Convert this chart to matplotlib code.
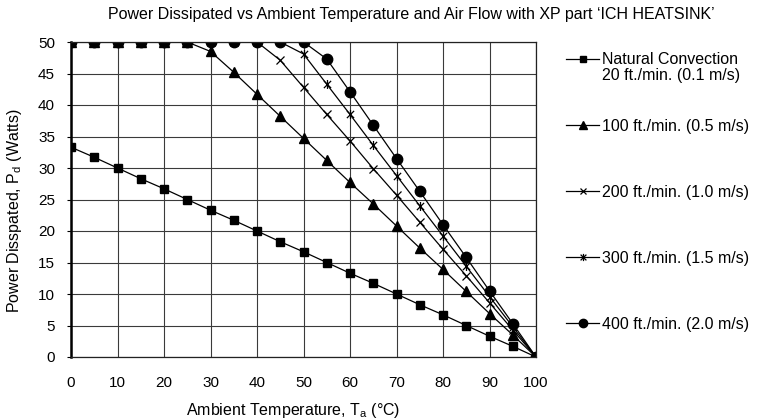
import matplotlib
matplotlib.use("Agg")
import matplotlib.pyplot as plt
from matplotlib.path import Path

plt.rcParams["font.family"] = ["Liberation Sans", "DejaVu Sans"]
plt.rcParams["mathtext.fontset"] = "custom"
plt.rcParams["mathtext.rm"] = "Liberation Sans"
plt.rcParams["mathtext.it"] = "Liberation Sans:italic"

# ambient temperature (deg C)
temps = [0, 5, 10, 15, 20, 25, 30, 35, 40, 45, 50,
         55, 60, 65, 70, 75, 80, 85, 90, 95, 100]

# power dissipated (W) per air flow
natural = [33.3, 31.7, 30.0, 28.3, 26.7, 25.0, 23.3, 21.7, 20.0, 18.3, 16.7,
           15.0, 13.3, 11.7, 10.0, 8.3, 6.7, 5.0, 3.3, 1.7, 0.0]
flow_100 = [50, 50, 50, 50, 50, 50, 48.5, 45.2, 41.7, 38.2, 34.7,
            31.2, 27.7, 24.3, 20.8, 17.3, 13.9, 10.4, 6.9, 3.5, 0.0]
flow_200 = [50, 50, 50, 50, 50, 50, 50, 50, 50, 47.1, 42.8,
            38.5, 34.3, 29.9, 25.7, 21.4, 17.1, 12.9, 8.6, 4.3, 0.0]
flow_300 = [50, 50, 50, 50, 50, 50, 50, 50, 50, 50, 48.1,
            43.3, 38.5, 33.6, 28.8, 24.0, 19.2, 14.4, 9.6, 4.8, 0.0]
flow_400 = [50, 50, 50, 50, 50, 50, 50, 50, 50, 50, 50,
            47.3, 42.1, 36.8, 31.5, 26.3, 21.0, 15.8, 10.5, 5.3, 0.0]

labels = [
    "Natural Convection",
    "100 ft./min. (0.5 m/s)",
    "200 ft./min. (1.0 m/s)",
    "300 ft./min. (1.5 m/s)",
    "400 ft./min. (2.0 m/s)",
]
natural_sub = "20 ft./min. (0.1 m/s)"

# x with a vertical bar, like the spreadsheet "star" marker
star = Path(
    [(-1, -1), (1, 1), (-1, 1), (1, -1), (0, -1.25), (0, 1.25)],
    [Path.MOVETO, Path.LINETO, Path.MOVETO, Path.LINETO, Path.MOVETO, Path.LINETO],
)

W, H = 758, 418
fig = plt.figure(figsize=(W / 100, H / 100), dpi=100)
ax = fig.add_axes([71 / W, 1 - 357 / H, 465 / W, 315 / H])

lw = 0.9
ax.plot(temps, natural, color="black", lw=lw, marker="s", ms=6, label=labels[0])
ax.plot(temps, flow_100, color="black", lw=lw, marker="^", ms=6.7, label=labels[1])
ax.plot(temps, flow_200, color="black", lw=lw, marker="x", ms=6, mew=0.9, label=labels[2])
ax.plot(temps, flow_300, color="black", lw=lw, marker=star, ms=6.5, mew=0.9,
        fillstyle="none", label=labels[3])
ax.plot(temps, flow_400, color="black", lw=lw, marker="o", ms=7.5, label=labels[4])

ax.set_xlim(0, 100)
ax.set_ylim(0, 50)
ax.set_xticks(range(0, 101, 10))
ax.set_yticks(range(0, 51, 5))
ax.grid(True, color="#3a3a3a", lw=0.8)
ax.set_axisbelow(True)
for side in ["top", "right", "bottom"]:
    ax.spines[side].set_color("#222222")
    ax.spines[side].set_linewidth(0.9)
ax.spines["left"].set_linewidth(1.8)
ax.tick_params(axis="x", length=0, pad=14, labelsize=11)
ax.tick_params(axis="y", length=3, width=0.8, pad=8.5, labelsize=11)

ax.set_xlabel("Ambient Temperature, T$_\\mathrm{a}$ (°C)", fontsize=11.5)
ax.set_ylabel("Power Disspated, P$_\\mathrm{d}$ (Watts)", fontsize=11.5)
ax.xaxis.set_label_coords((293 - 71) / 465, -(410 - 357) / 315)
ax.yaxis.set_label_coords(-(71 - 15) / 465, (357 - 211) / 315)
ax.xaxis.label.set_va("center")
ax.yaxis.label.set_va("center")

fig.text(108 / W, 1 - 15 / H,
         "Power Dissipated vs Ambient Temperature and Air Flow with XP part \u2018ICH HEATSINK\u2019",
         ha="left", va="center", fontsize=11.5)

leg = fig.legend(loc="upper left", bbox_to_anchor=(560 / W, 1 - 46 / H),
                 frameon=False, fontsize=11.5, handlelength=2.05, handletextpad=0.2,
                 labelspacing=3.2, markerscale=0.8, borderaxespad=0)

# second line of the first legend entry, set under its label
fig.canvas.draw()
bb = leg.get_texts()[0].get_window_extent()
fig.text(bb.x0 / fig.bbox.width, (bb.y0 - 1) / fig.bbox.height, natural_sub,
         ha="left", va="top", fontsize=11.5)

fig.savefig("out.png", dpi=100)
